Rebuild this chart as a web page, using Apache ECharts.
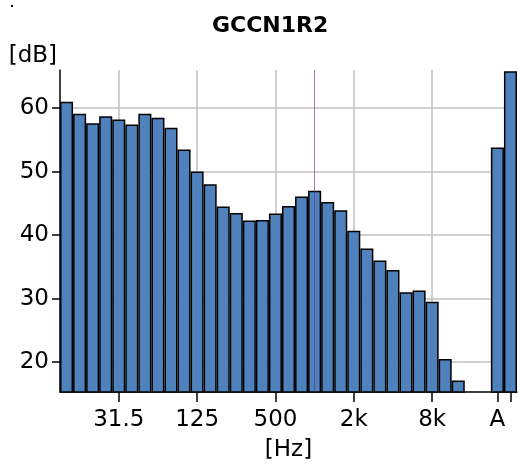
<!DOCTYPE html>
<html>
<head>
<meta charset="utf-8">
<script src="https://cdn.jsdelivr.net/npm/echarts@6/dist/echarts.min.js"></script>
<style>html,body{margin:0;padding:0;background:#fff;}#c{width:518px;height:467px;}</style>
</head>
<body>
<div id="c"></div>
<script>
const categories = ['12.5','16','20','25','31.5','40','50','63','80','100','125','160','200','250','315','400','500','630','800','1k','1.25k','1.6k','2k','2.5k','3.15k','4k','5k','6.3k','8k','10k','12.5k','16k','20k','A','Lin'];
const levels = [61.0,59.1,57.6,58.7,58.2,57.4,59.1,58.5,56.9,53.5,50.0,48.0,44.5,43.5,42.3,42.4,43.4,44.6,46.1,47.0,45.2,43.9,40.7,37.9,36.0,34.5,31.0,31.3,29.5,20.5,17.1,null,null,53.8,65.8];
const xTickLabels = ['31.5','125','500','2k','8k','A'];
const xGridLabels = ['31.5','125','500','2k','8k'];
const xExtraTicks = ['Lin'];
const yTicks = [20,30,40,50,60];
const markerFreq = '1k';

const FONT = 'DejaVu Sans';
const chart = echarts.init(document.getElementById('c'), null, {renderer:'canvas'});
chart.setOption({
  animation:false,
  backgroundColor:'#fff',
  title:{text:'GCCN1R2', left:207, top:10,
    textStyle:{fontFamily:FONT, fontSize:22, fontWeight:'bold', color:'#000'}},
  graphic:[{type:'rect', left:11, top:5, shape:{width:2, height:2}, style:{fill:'#000'}}],
  grid:{left:60, right:1, top:70, bottom:75, containLabel:false, outerBoundsMode:'none'},
  xAxis:{
    type:'category', data:categories, boundaryGap:true,
    name:'[Hz]', nameLocation:'middle', nameGap:47,
    nameTextStyle:{fontFamily:FONT, fontSize:23, color:'#000'},
    axisLine:{show:true, lineStyle:{color:'#000', width:1.5}},
    axisTick:{show:true, alignWithLabel:true, length:10, lineStyle:{color:'#000', width:1.5},
      interval:(i,v)=> xTickLabels.includes(v) || xExtraTicks.includes(v)},
    axisLabel:{show:true, margin:17, fontFamily:FONT, fontSize:23, color:'#000',
      interval:(i,v)=> xTickLabels.includes(v)},
    splitLine:{show:true, alignWithLabel:true, lineStyle:{color:'#c0c0c0', width:1.5},
      interval:(i,v)=> xGridLabels.includes(v)}
  },
  yAxis:{
    type:'value', min:15.3, max:66,
    name:'[dB]', nameLocation:'end', nameGap:14,
    nameTextStyle:{fontFamily:FONT, fontSize:23, color:'#000', align:'right', verticalAlign:'middle', padding:[0,3,0,0]},
    axisLine:{show:true, lineStyle:{color:'#000', width:1.5}},
    axisTick:{show:true, length:8, lineStyle:{color:'#000', width:1.5}, customValues:yTicks},
    axisLabel:{show:true, margin:11, fontFamily:FONT, fontSize:23, color:'#000', customValues:yTicks},
    splitLine:{show:true, lineStyle:{color:'#c0c0c0', width:1.5}}
  },
  series:[{
    type:'bar', data:levels, barCategoryGap:'0%',
    itemStyle:{color:'#4f81bd', borderColor:'#000', borderWidth:1.5},
    markLine:{silent:true, symbol:'none', label:{show:false},
      lineStyle:{color:'rgba(100,40,140,0.6)', width:1, type:'solid'},
      data:[{xAxis:markerFreq}]}
  }]
});
</script>
</body>
</html>
